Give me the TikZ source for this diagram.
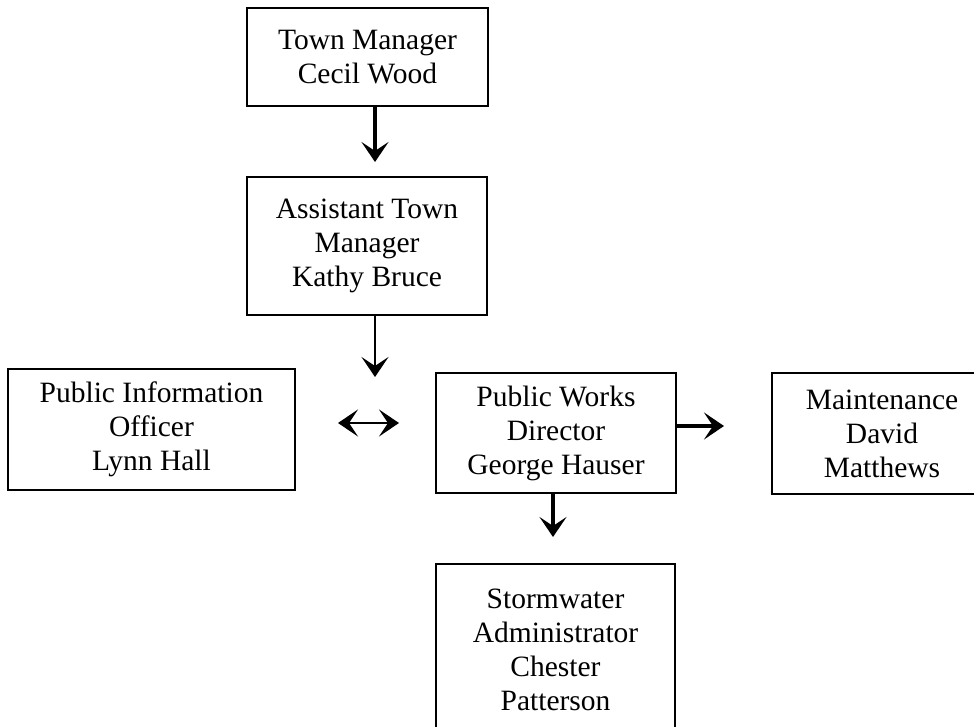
\documentclass[tikz,border=0pt]{standalone}
\usepackage{fontspec}
\setmainfont{Liberation Serif}
\usetikzlibrary{positioning,arrows.meta}
\tikzset{
  post/.style={draw=black,line width=2pt,align=center,inner sep=0pt,font=\fontsize{29.5}{34}\selectfont},
  tip/.tip={Stealth[length=20pt,width=27pt,inset=9pt]},
  lnk/.style={-tip,line width=3.2pt},
  lnkthin/.style={lnk,line width=2.4pt},
  lnkboth/.style={tip-tip,line width=2.4pt},
}
\begin{document}
\begin{tikzpicture}[x=1pt,y=-1pt]
  \useasboundingbox (0,0) rectangle (974,727);
  % posts
  \node[post,minimum width=241pt,minimum height=98pt] (town) at (367.5,57) {Town Manager\\Cecil Wood};
  \node[post,minimum width=240pt,minimum height=138pt] (asst) at (367,246) {Assistant Town\\Manager\\Kathy Bruce};
  \node[post,minimum width=287pt,minimum height=121pt] (pio) at (151.5,429.5) {Public Information\\Officer\\Lynn Hall};
  \node[post,minimum width=240pt,minimum height=120pt] (pwd) at (556,433) {Public Works\\Director\\George Hauser};
  \node[post,minimum width=220pt,minimum height=121pt] (maint) at (882,433.5) {Maintenance\\David\\Matthews};
  \node[post,minimum width=239pt,minimum height=171pt] (storm) at (555.5,649.5) {Stormwater\\Administrator\\Chester\\Patterson};
  \coordinate (split) at (375,377);
  % links
  \draw[lnk] ([xshift=7.5pt]town.south) -- ([xshift=8pt,yshift=14pt]asst.north);
  \draw[lnkthin] ([xshift=8pt]asst.south) -- (split);
  \draw[lnkboth] ([xshift=42pt,yshift=6.5pt]pio.east) -- ([xshift=-36pt,yshift=10pt]pwd.west);
  \draw[lnk] ([yshift=7pt]pwd.east) -- ([xshift=-47pt,yshift=7.5pt]maint.west);
  \draw[lnk] ([xshift=-3pt]pwd.south) -- ([xshift=-2.5pt,yshift=26pt]storm.north);
\end{tikzpicture}
\end{document}
